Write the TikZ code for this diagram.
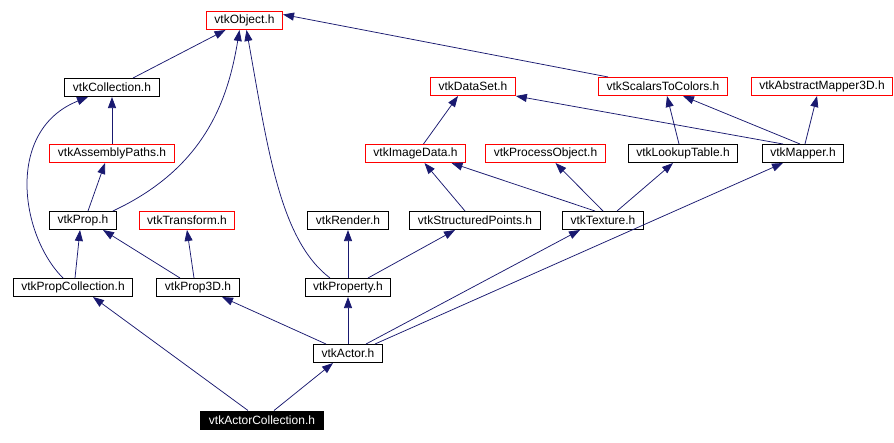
\documentclass[tikz,border=0pt]{standalone}
\usepackage{fontspec}
\setmainfont{Liberation Sans}
\usetikzlibrary{arrows.meta}
\definecolor{edgeblue}{RGB}{25,25,112}
\definecolor{hdrred}{RGB}{255,0,0}

\begin{document}
\begin{tikzpicture}[
  x=1pt, y=-1pt,
  hdr/.style={draw=black, fill=white, line width=1pt, inner xsep=8pt, inner ysep=0pt,
              minimum height=18pt, font=\fontsize{12}{14}\selectfont, anchor=center},
  redhdr/.style={hdr, draw=hdrred},
  selhdr/.style={hdr, fill=black, text=white},
  dep/.style={-{Triangle[length=11pt,width=8pt]}, edgeblue, line width=0.75pt},
]
\useasboundingbox (0,0) rectangle (894,442);

% Top row
\node[redhdr] (obj) at (244.5,20.5) {vtkObject.h};

% Second row
\node[hdr]    (coll) at (112,87.5)   {vtkCollection.h};
\node[redhdr] (dset) at (473,86.5)   {vtkDataSet.h};
\node[redhdr] (s2c)  at (663,86.5)   {vtkScalarsToColors.h};
\node[redhdr] (am3d) at (822,86.5)   {vtkAbstractMapper3D.h};

% Third row
\node[redhdr] (asm)    at (112,153.5)   {vtkAssemblyPaths.h};
\node[redhdr] (imgd)   at (415.5,153.5) {vtkImageData.h};
\node[redhdr] (pobj)   at (545.5,153.5) {vtkProcessObject.h};
\node[hdr]    (lut)    at (683,153.5)   {vtkLookupTable.h};
\node[hdr]    (mapper) at (803,153.5)   {vtkMapper.h};

% Fourth row
\node[hdr]    (prop)   at (83,220.5)  {vtkProp.h};
\node[redhdr] (xform)  at (187,220.5) {vtkTransform.h};
\node[hdr]    (render) at (348,220.5) {vtkRender.h};
\node[hdr]    (spts)   at (475,220.5) {vtkStructuredPoints.h};
\node[hdr]    (tex)    at (603,220.5) {vtkTexture.h};

% Fifth row
\node[hdr] (pcoll) at (73,287.5)  {vtkPropCollection.h};
\node[hdr] (p3d)   at (198,287.5) {vtkProp3D.h};
\node[hdr] (prty)  at (348,287.5) {vtkProperty.h};

% Bottom
\node[hdr]    (actor) at (348,353.5) {vtkActor.h};
\node[selhdr] (acoll) at (262,420)   {vtkActorCollection.h};

% Edges into vtkObject.h
\draw[dep] ([xshift=21pt]coll.north) -- ([xshift=-19pt]obj.south);
\draw[dep] ([xshift=-4pt]prop.north east) .. controls (205,168) and (228,100) .. ([xshift=-5pt]obj.south);
\draw[dep] ([xshift=-18pt]prty.north) .. controls (280,240) and (268,150) .. ([xshift=2pt]obj.south);
\draw[dep] ([xshift=10pt]s2c.north west) -- ([yshift=6pt]obj.east);

% Collection / prop branch
\draw[dep] (asm.north) -- (coll.south);
\draw[dep] ([xshift=-10pt]pcoll.north) .. controls (20,235) and (5,130) .. ([xshift=-24pt]coll.south);
\draw[dep] ([xshift=5pt]prop.north) -- ([xshift=-7pt]asm.south);
\draw[dep] ([xshift=2pt]pcoll.north) -- ([xshift=-3pt]prop.south);
\draw[dep] ([xshift=-18pt]p3d.north) -- ([xshift=20pt]prop.south);
\draw[dep] ([xshift=-4pt]p3d.north) -- (xform.south);
\draw[dep] ([xshift=-22pt]actor.north) -- ([xshift=24pt]p3d.south);
\draw[dep] ([xshift=-14pt]acoll.north) -- ([xshift=20pt]pcoll.south);
\draw[dep] ([xshift=12pt]acoll.north) -- ([xshift=-15pt]actor.south);

% Property branch
\draw[dep] (actor.north) -- (prty.south);
\draw[dep] (prty.north) -- (render.south);
\draw[dep] ([xshift=20pt]prty.north) -- ([xshift=-20pt]spts.south);

% Texture / mapper branch
\draw[dep] ([xshift=18pt]actor.north) -- ([xshift=-23pt]tex.south);
\draw[dep] ([xshift=27pt]actor.north) -- ([xshift=-20pt]mapper.south);
\draw[dep] ([xshift=-10pt]spts.north) -- ([xshift=9pt]imgd.south);
\draw[dep] ([xshift=-8pt]tex.north) -- ([xshift=36pt]imgd.south);
\draw[dep] (tex.north) -- ([xshift=10pt]pobj.south);
\draw[dep] ([xshift=14pt]tex.north) -- ([xshift=-10pt]lut.south);
\draw[dep] ([xshift=8pt]imgd.north) -- ([xshift=-15pt]dset.south);
\draw[dep] ([xshift=-20pt]mapper.north) -- (dset.south east);
\draw[dep] ([xshift=-3pt]mapper.north) -- ([xshift=20pt]s2c.south);
\draw[dep] ([xshift=2pt]mapper.north) -- ([xshift=-5pt]am3d.south);
\draw[dep] ([xshift=-4pt]lut.north) -- ([xshift=4pt]s2c.south);
\end{tikzpicture}
\end{document}
